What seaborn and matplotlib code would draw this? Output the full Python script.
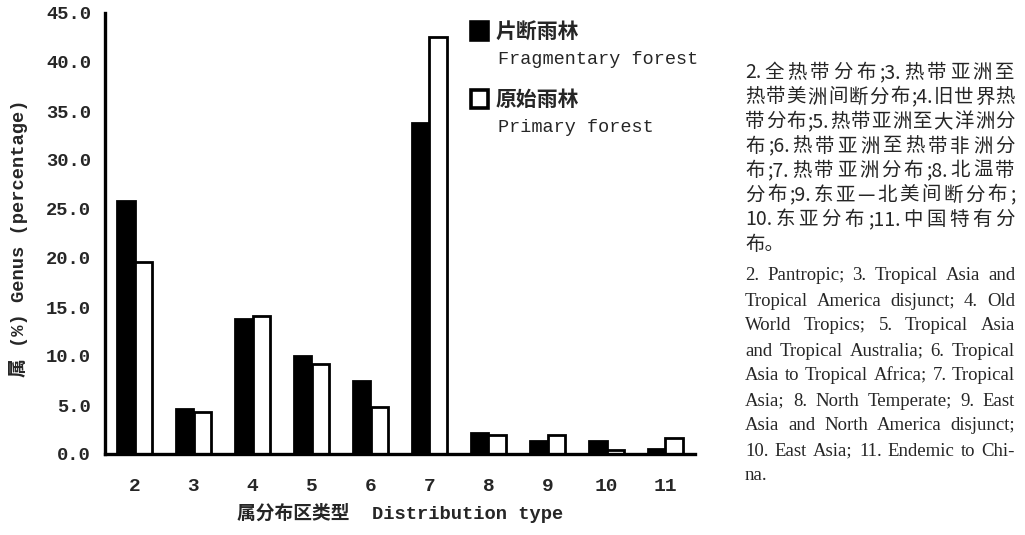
import numpy as np
import pandas as pd
import matplotlib
matplotlib.use("Agg")
import matplotlib.pyplot as plt
import seaborn as sns
from matplotlib.patches import Rectangle

# ---- data -------------------------------------------------------------
types = ["2", "3", "4", "5", "6", "7", "8", "9", "10", "11"]
fragmentary = [25.8, 4.6, 13.8, 10.0, 7.5, 33.8, 2.1, 1.3, 1.3, 0.5]
primary = [19.6, 4.3, 14.1, 9.2, 4.8, 42.5, 1.9, 1.9, 0.4, 1.6]
series_cn = ["片断雨林", "原始雨林"]
series_en = ["Fragmentary forest", "Primary forest"]
y_ticks = [0, 5, 10, 15, 20, 25, 30, 35, 40, 45]

notes_cn = [
    "2. 全热带分布;3. 热带亚洲至",
    "热带美洲间断分布;4. 旧世界热",
    "带分布;5. 热带亚洲至大洋洲分",
    "布;6. 热带亚洲至热带非洲分",
    "布;7. 热带亚洲分布;8. 北温带",
    "分布;9. 东亚—北美间断分布;",
    "10. 东亚分布;11. 中国特有分",
    "布。",
]
notes_en = [
    "2. Pantropic; 3. Tropical Asia and",
    "Tropical America disjunct; 4. Old",
    "World Tropics; 5. Tropical Asia",
    "and Tropical Australia; 6. Tropical",
    "Asia to Tropical Africa; 7. Tropical",
    "Asia; 8. North Temperate; 9. East",
    "Asia and North America disjunct;",
    "10. East Asia; 11. Endemic to Chi-",
    "na.",
]

df = pd.DataFrame({
    "type": types * 2,
    "pct": fragmentary + primary,
    "forest": [series_en[0]] * len(types) + [series_en[1]] * len(types),
})

# ---- style ------------------------------------------------------------
sns.set_style("white")
MONO = ["Liberation Mono", "Noto Sans CJK SC"]
CJK = ["Noto Sans CJK SC", "DejaVu Sans"]
SERIF = ["Liberation Serif", "DejaVu Serif"]
plt.rcParams["font.family"] = MONO
palette = ["black", "white"]

W, H = 1025, 535
fig = plt.figure(figsize=(W / 100, H / 100), dpi=100)
ax = fig.add_axes([105 / W, 1 - 454 / H, 590 / W, 441 / H])

sns.barplot(data=df, x="type", y="pct", hue="forest", order=types,
            hue_order=series_en, palette=palette, edgecolor="black",
            linewidth=2.0, width=0.6, legend=False, ax=ax)

ax.set_xlim(-0.5, len(types) - 0.5)
ax.set_ylim(0, 45)
ax.set_yticks(y_ticks)
ax.set_yticklabels([f"{v:.1f}" for v in y_ticks], fontsize=13.5,
                   fontweight="bold", family=MONO)
ax.set_xticks(range(len(types)))
ax.set_xticklabels(types, fontsize=14, fontweight="bold", family=MONO)
ax.set_xticks(np.arange(0.5, len(types), 1.0), minor=True)

ax.tick_params(axis="x", which="major", length=0, pad=17)
ax.tick_params(axis="x", which="minor", direction="in", length=6, width=2.2)
ax.tick_params(axis="y", direction="in", length=6, width=2.2, pad=10)

for side in ("top", "right"):
    ax.spines[side].set_visible(False)
for side in ("left", "bottom"):
    ax.spines[side].set_linewidth(2.4)
    ax.spines[side].set_color("black")

ax.set_xlabel("属分布区类型  Distribution type", fontsize=13.5,
              fontweight="bold", family=MONO)
ax.xaxis.set_label_coords(0.5, -0.112)
ax.set_ylabel("属 (%) Genus (percentage)", fontsize=13.5,
              fontweight="bold", family=MONO)
ax.yaxis.set_label_coords(-0.13, 0.49)

# ---- legend -----------------------------------------------------------
legend_rows = [(31, 60), (99, 127)]
for color, cn, en, (y_cn, y_en) in zip(palette, series_cn, series_en, legend_rows):
    swatch = Rectangle((471 / W, 1 - (y_cn + 9) / H), 17 / W, 18 / H,
                       transform=fig.transFigure, facecolor=color,
                       edgecolor="black", linewidth=2.6)
    fig.add_artist(swatch)
    fig.text(496 / W, 1 - y_cn / H, cn, fontsize=15, fontweight="bold",
             family=CJK, ha="left", va="center")
    fig.text(498 / W, 1 - y_en / H, en, fontsize=13.3, family=MONO,
             ha="left", va="center")

# ---- justified notes --------------------------------------------------
renderer = fig.canvas.get_renderer()


def split_cjk(line):
    toks, buf = [], ""
    for ch in line:
        if ch == " ":
            if buf:
                toks.append(buf)
                buf = ""
        elif ord(ch) < 128:
            buf += ch
        else:
            if buf:
                toks.append(buf)
                buf = ""
            toks.append(ch)
    if buf:
        toks.append(buf)
    return toks


def put_line(tokens, y_px, x0, x1, justify, **kw):
    if not justify:
        fig.text(x0 / W, 1 - y_px / H, "".join(tokens), ha="left",
                 va="center_baseline", **kw)
        return
    texts = [fig.text(0, 0, t, ha="left", va="center_baseline", **kw)
             for t in tokens]
    widths = [t.get_window_extent(renderer).width for t in texts]
    gap = (x1 - x0 - sum(widths)) / max(len(tokens) - 1, 1)
    x = x0
    for t, w in zip(texts, widths):
        t.set_position((x / W, 1 - y_px / H))
        x += w + gap


X0, X1 = 745, 1015
for i, line in enumerate(notes_cn):
    last = i == len(notes_cn) - 1
    put_line(split_cjk(line), 70 + 24.5 * i, X0, X1, not last,
             fontsize=14, family=CJK)

for i, line in enumerate(notes_en):
    last = i == len(notes_en) - 1
    toks = [line] if last else line.split(" ")
    put_line(toks, 274 + 25 * i, X0, X1, not last,
             fontsize=13.5, family=SERIF)

fig.savefig("out.png", dpi=100)
